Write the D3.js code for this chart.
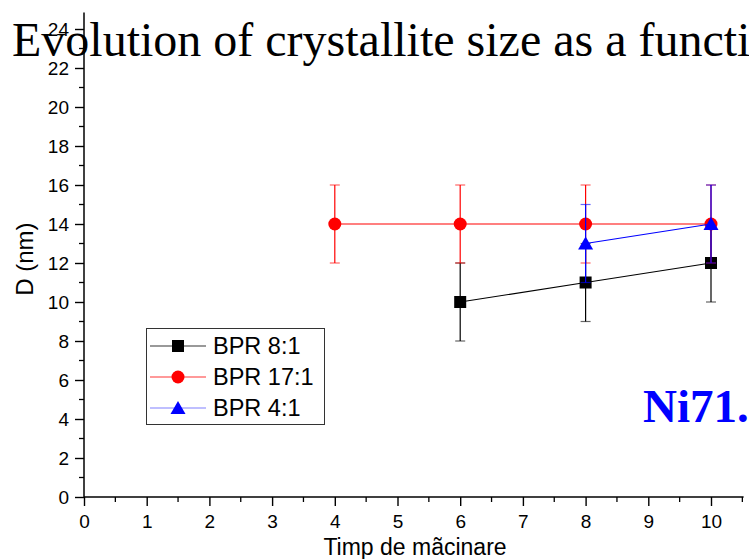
<!DOCTYPE html>
<html>
<head>
<meta charset="utf-8">
<script src="https://cdn.jsdelivr.net/npm/d3@7"></script>
<style>
  html, body { margin: 0; padding: 0; background: #fff; overflow: hidden; }
  svg { display: block; }
</style>
</head>
<body>
<div id="chart"></div>
<script>
(function () {
  'use strict';

  // data
  var seriesNames = ['BPR 8:1', 'BPR 17:1', 'BPR 4:1'];
  var seriesColours = ['#000000', '#ff0000', '#0000ff'];
  var x81 = [6, 8, 10];
  var d81 = [10, 11, 12];
  var e81 = [2, 2, 2];
  var x171 = [4, 6, 8, 10];
  var d171 = [14, 14, 14, 14];
  var e171 = [2, 2, 2, 2];
  var x41 = [8, 10];
  var d41 = [13, 14];
  var e41 = [2, 2];
  var xTicks = [0, 1, 2, 3, 4, 5, 6, 7, 8, 9, 10];
  var yTicks = [0, 2, 4, 6, 8, 10, 12, 14, 16, 18, 20, 22, 24];

  var width = 749, height = 559;
  var sans = 'Arial, "Liberation Sans", sans-serif';
  var serif = '"Liberation Serif", "Times New Roman", serif';

  var series = [
    { name: seriesNames[0], colour: seriesColours[0], shape: 'square', x: x81, y: d81, e: e81 },
    { name: seriesNames[1], colour: seriesColours[1], shape: 'circle', x: x171, y: d171, e: e171 },
    { name: seriesNames[2], colour: seriesColours[2], shape: 'triangle', x: x41, y: d41, e: e41 }
  ];

  var x = d3.scaleLinear().domain([0, 10]).range([84, 711]);
  var y = d3.scaleLinear().domain([0, 24]).range([497, 29]);

  var svg = d3.select('#chart')
    .append('svg')
    .attr('width', width)
    .attr('height', height);

  svg.append('rect')
    .attr('width', width)
    .attr('height', height)
    .attr('fill', '#fff');

  // title, partly under the axis and running off the right edge
  svg.append('text')
    .attr('x', 12)
    .attr('y', 56)
    .attr('font-family', serif)
    .attr('font-size', 48)
    .attr('fill', '#000')
    .text('Evolution of crystallite size as a function');

  // minor ticks
  var xMinor = d3.range(0.5, 10.6, 1);
  var yMinor = d3.range(1, 24.1, 2);

  var gx = svg.append('g').attr('transform', 'translate(0,' + y(0) + ')');
  gx.append('line')
    .attr('x1', x(0)).attr('x2', x(10.52))
    .attr('stroke', '#000').attr('stroke-width', 1.5);
  gx.selectAll('.minor').data(xMinor).enter().append('line')
    .attr('x1', function (d) { return x(d); })
    .attr('x2', function (d) { return x(d); })
    .attr('y1', 0).attr('y2', 5)
    .attr('stroke', '#000').attr('stroke-width', 1.3);
  var xAxis = d3.axisBottom(x).tickValues(xTicks).tickSize(9).tickPadding(9).tickFormat(d3.format('d'));
  gx.append('g').call(xAxis)
    .call(function (g) { g.select('.domain').remove(); })
    .call(function (g) {
      g.selectAll('line').attr('stroke-width', 1.4);
      g.selectAll('text').attr('font-family', sans).attr('font-size', 19).attr('fill', '#000');
    });

  var gy = svg.append('g').attr('transform', 'translate(' + x(0) + ',0)');
  gy.append('line')
    .attr('y1', y(0)).attr('y2', y(24.85))
    .attr('stroke', '#000').attr('stroke-width', 1.5);
  gy.selectAll('.minor').data(yMinor).enter().append('line')
    .attr('y1', function (d) { return y(d); })
    .attr('y2', function (d) { return y(d); })
    .attr('x1', 0).attr('x2', -5)
    .attr('stroke', '#000').attr('stroke-width', 1.3);
  var yAxis = d3.axisLeft(y).tickValues(yTicks).tickSize(9).tickPadding(6).tickFormat(d3.format('d'));
  gy.append('g').call(yAxis)
    .call(function (g) { g.select('.domain').remove(); })
    .call(function (g) {
      g.selectAll('line').attr('stroke-width', 1.4);
      g.selectAll('text').attr('font-family', sans).attr('font-size', 19).attr('fill', '#000');
    });

  // axis titles
  svg.append('text')
    .attr('x', 415)
    .attr('y', 555)
    .attr('text-anchor', 'middle')
    .attr('font-family', sans)
    .attr('font-size', 23)
    .attr('fill', '#000')
    .text('Timp de mãcinare');

  svg.append('text')
    .attr('transform', 'translate(33,' + y(12.2) + ') rotate(-90)')
    .attr('text-anchor', 'middle')
    .attr('font-family', sans)
    .attr('font-size', 24)
    .attr('fill', '#000')
    .text('D (nm)');

  function marker(sel, shape, colour) {
    if (shape === 'square') {
      sel.append('rect').attr('x', -6).attr('y', -6).attr('width', 12).attr('height', 12).attr('fill', colour);
    } else if (shape === 'circle') {
      sel.append('circle').attr('r', 6.5).attr('fill', colour);
    } else {
      sel.append('path').attr('d', 'M0,-7L7.5,6L-7.5,6Z').attr('fill', colour);
    }
  }

  var line = d3.line()
    .x(function (d) { return x(d[0]); })
    .y(function (d) { return y(d[1]); });

  series.forEach(function (s) {
    var pts = s.x.map(function (v, i) { return [v, s.y[i], s.e[i]]; });
    var g = svg.append('g');

    g.append('path')
      .attr('d', line(pts))
      .attr('fill', 'none')
      .attr('stroke', s.colour)
      .attr('stroke-width', 1.2);

    var eb = g.selectAll('.err').data(pts).enter().append('g');
    eb.append('line')
      .attr('x1', function (d) { return x(d[0]); })
      .attr('x2', function (d) { return x(d[0]); })
      .attr('y1', function (d) { return y(d[1] - d[2]); })
      .attr('y2', function (d) { return y(d[1] + d[2]); })
      .attr('stroke', s.colour).attr('stroke-width', 1.2);
    [1, -1].forEach(function (sign) {
      eb.append('line')
        .attr('x1', function (d) { return x(d[0]) - 5; })
        .attr('x2', function (d) { return x(d[0]) + 5; })
        .attr('y1', function (d) { return y(d[1] + sign * d[2]); })
        .attr('y2', function (d) { return y(d[1] + sign * d[2]); })
        .attr('stroke', s.colour).attr('stroke-width', 1.2)
        .attr('stroke-opacity', 0.6);
    });

    g.selectAll('.pt').data(pts).enter().append('g')
      .attr('transform', function (d) { return 'translate(' + x(d[0]) + ',' + y(d[1]) + ')'; })
      .each(function () { marker(d3.select(this), s.shape, s.colour); });
  });

  // legend
  var lg = svg.append('g');
  lg.append('rect')
    .attr('x', 146.5).attr('y', 328.5)
    .attr('width', 178).attr('height', 96)
    .attr('fill', '#fff').attr('stroke', '#333').attr('stroke-width', 1);
  series.forEach(function (s, i) {
    var cy = 346 + i * 31;
    var row = lg.append('g').attr('transform', 'translate(0,' + cy + ')');
    row.append('line')
      .attr('x1', 150).attr('x2', 206)
      .attr('stroke', s.colour).attr('stroke-width', 1.2)
      .attr('stroke-opacity', i === 2 ? 0.5 : 0.8);
    var m = row.append('g').attr('transform', 'translate(178,0)');
    marker(m, s.shape, s.colour);
    row.append('text')
      .attr('x', 213).attr('y', 8)
      .attr('font-family', sans)
      .attr('font-size', 23.5)
      .attr('fill', '#000')
      .text(s.name);
  });

  svg.append('text')
    .attr('x', 643)
    .attr('y', 422)
    .attr('font-family', serif)
    .attr('font-weight', 'bold')
    .attr('font-size', 47)
    .attr('fill', '#0000ff')
    .text('Ni71.');
}());
</script>
</body>
</html>
